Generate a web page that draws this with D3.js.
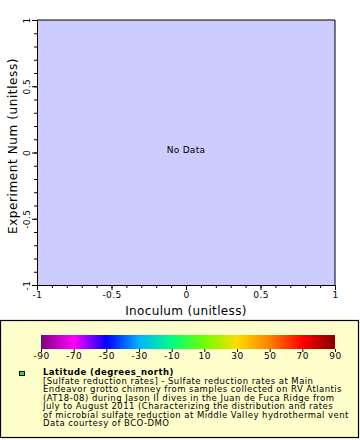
<!DOCTYPE html>
<html>
<head>
<meta charset="utf-8">
<script src="https://cdn.jsdelivr.net/npm/d3@7"></script>
<style>
  body { margin: 0; background: #fff; }
  svg { display: block; font-family: "DejaVu Sans", sans-serif; }
</style>
</head>
<body>
<svg id="chart" width="360" height="440"></svg>
<script>
// axes
var xDomain = [-1, 1];
var yDomain = [-1, 1];
var majorTicks = [-1, -0.5, 0, 0.5, 1];
var minorTicks = d3.range(-10, 11).map(function (d) { return d / 10; });
var xTitle = "Inoculum (unitless)";
var yTitle = "Experiment Num (unitless)";

// colour bar
var cbTicks = [-90, -70, -50, -30, -10, 10, 30, 50, 70, 90];
var cbColors = ["#800080", "#ff00ff", "#0000ff", "#00b4ff", "#00ff80",
                "#70ff00", "#ffdc00", "#ff8000", "#ff0000", "#800000"];

// legend text
var legendTitle = "Latitude (degrees_north)";
var legendLines = [
  "[Sulfate reduction rates] - Sulfate reduction rates at Main",
  "Endeavor grotto chimney from samples collected on RV Atlantis",
  "(AT18-08) during Jason II dives in the Juan de Fuca Ridge from",
  "July to August 2011 (Characterizing the distribution and rates",
  "of microbial sulfate reduction at Middle Valley hydrothermal vent",
  "Data courtesy of BCO-DMO"
];

var svg = d3.select("#chart");
var pLeft = 37, pRight = 335, pTop = 20, pBottom = 285;

var x = d3.scaleLinear().domain(xDomain).range([pLeft, pRight]);
var y = d3.scaleLinear().domain(yDomain).range([pBottom, pTop]);
var fmt = function (d) { return String(d); };

// plot bg
svg.append("rect")
  .attr("x", pLeft).attr("y", pTop)
  .attr("width", pRight - pLeft).attr("height", pBottom - pTop)
  .attr("fill", "#ccccff");

// minor ticks
svg.append("g").attr("transform", "translate(0," + pBottom + ")")
  .call(d3.axisBottom(x).tickValues(minorTicks).tickSize(3).tickFormat(""))
  .call(function (g) { g.select(".domain").remove(); });
svg.append("g").attr("transform", "translate(" + pLeft + ",0)")
  .call(d3.axisLeft(y).tickValues(minorTicks).tickSize(3).tickFormat(""))
  .call(function (g) { g.select(".domain").remove(); });

// major ticks
var xAxis = svg.append("g").attr("transform", "translate(0," + pBottom + ")")
  .call(d3.axisBottom(x).tickValues(majorTicks).tickSize(5).tickSizeOuter(0).tickFormat(fmt));
xAxis.selectAll("text").attr("font-size", 9).attr("font-family", "DejaVu Sans")
  .attr("letter-spacing", 0.4).attr("y", 7);

var yAxis = svg.append("g").attr("transform", "translate(" + pLeft + ",0)")
  .call(d3.axisLeft(y).tickValues(majorTicks).tickSize(5).tickSizeOuter(0).tickFormat(fmt));
yAxis.selectAll("text")
  .attr("font-size", 9).attr("font-family", "DejaVu Sans").attr("letter-spacing", 0.4)
  .attr("x", null).attr("dy", null)
  .attr("text-anchor", "middle")
  .attr("transform", "translate(-7,0) rotate(-90)");

svg.selectAll(".domain").attr("stroke", "#000");
svg.selectAll(".tick line").attr("stroke", "#000");

// frame top/right lines
svg.append("line").attr("x1", pLeft).attr("x2", pRight).attr("y1", pTop).attr("y2", pTop).attr("stroke", "#000");
svg.append("line").attr("x1", pRight).attr("x2", pRight).attr("y1", pTop).attr("y2", pBottom).attr("stroke", "#000");

// no data
svg.append("text").attr("x", (pLeft + pRight) / 2).attr("y", 153)
  .attr("text-anchor", "middle").attr("font-size", 9).attr("letter-spacing", 0.3).text("No Data");

// axis titles
svg.append("text").attr("x", (pLeft + pRight) / 2).attr("y", 315)
  .attr("text-anchor", "middle").attr("font-size", 12).attr("letter-spacing", 0.35).text(xTitle);
svg.append("text").attr("transform", "translate(17,146) rotate(-90)")
  .attr("text-anchor", "middle").attr("font-size", 12).attr("letter-spacing", 0.6).text(yTitle);

// legend box
svg.append("rect").attr("x", 0.5).attr("y", 320.5).attr("width", 358).attr("height", 117)
  .attr("fill", "#ffffcc").attr("stroke", "#000").attr("stroke-width", 1.2);

// colour bar
var cb = d3.scaleLinear().domain([-90, 90]).range([41, 335]);
var grad = svg.append("defs").append("linearGradient").attr("id", "cbar");
grad.selectAll("stop").data(cbTicks).join("stop")
  .attr("offset", function (d) { return (d + 90) / 180; })
  .attr("stop-color", function (d, i) { return cbColors[i]; });
svg.append("rect").attr("x", cb(-90)).attr("y", 335)
  .attr("width", cb(90) - cb(-90)).attr("height", 14).attr("fill", "url(#cbar)");
var cbAxis = svg.append("g").attr("transform", "translate(0,349)")
  .call(d3.axisBottom(cb).tickValues(cbTicks).tickSize(3).tickSizeOuter(0).tickFormat(fmt));
cbAxis.select(".domain").remove();
cbAxis.selectAll("line").attr("stroke", "#000");
cbAxis.selectAll("text").attr("font-size", 9).attr("font-family", "DejaVu Sans")
  .attr("letter-spacing", 0.5).attr("y", 4);

// legend entry
svg.append("rect").attr("x", 19.5).attr("y", 371.5).attr("width", 5).attr("height", 4)
  .attr("fill", "#33dd33").attr("stroke", "#000");
svg.append("text").attr("x", 43).attr("y", 375)
  .attr("font-size", 8.5).attr("letter-spacing", 0.45).attr("font-weight", "bold").text(legendTitle);
svg.selectAll(".leg").data(legendLines).join("text")
  .attr("class", "leg")
  .attr("x", 43).attr("y", function (d, i) { return 383.5 + i * 8.5; })
  .attr("font-size", 8.5).attr("letter-spacing", 0.45).text(function (d) { return d; });
</script>
</body>
</html>
